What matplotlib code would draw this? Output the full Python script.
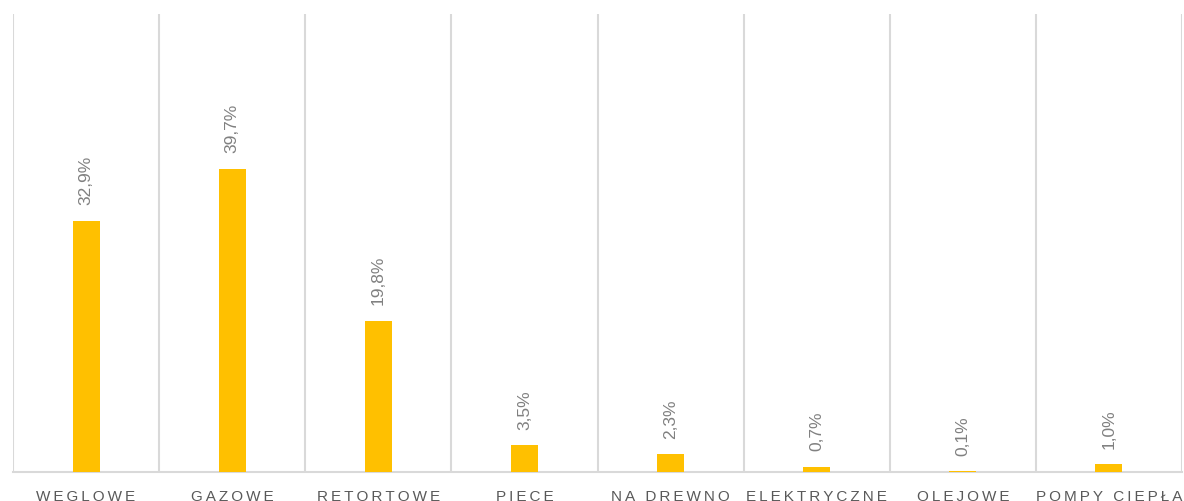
import matplotlib
matplotlib.use("Agg")
import matplotlib.pyplot as plt
import numpy as np

categories = ["WEGLOWE", "GAZOWE", "RETORTOWE", "PIECE", "NA DREWNO",
              "ELEKTRYCZNE", "OLEJOWE", "POMPY CIEPŁA"]
shares = [0.329, 0.397, 0.198, 0.035, 0.023, 0.007, 0.001, 0.010]

fam = ["Liberation Sans Narrow", "Liberation Sans", "DejaVu Sans"]
plt.rcParams["font.family"] = fam

fig = plt.figure(figsize=(11.84, 5.02), dpi=100)
ax = fig.add_axes([13 / 1184, 29 / 502, 1169 / 1184, 458 / 502])

x = np.arange(len(categories))
bars = ax.bar(x, shares, width=0.185, color="#FFC000", zorder=3)

for rect, v in zip(bars, shares):
    ax.annotate(f"{v * 100:.1f}%".replace(".", ","),
                (rect.get_x() + rect.get_width() / 2, rect.get_height()),
                xytext=(0, 12), textcoords="offset points",
                rotation=90, ha="center", va="bottom",
                fontsize=12.5, color="#808080")

ax.set_xlim(-0.5, len(categories) - 0.5)
ax.set_ylim(0, 0.6)
for b in np.arange(-0.5, len(categories), 1.0):
    ax.axvline(b, color="#d9d9d9", lw=1.5, zorder=1)

ax.set_xticks(x)
ax.set_xticklabels(["\u2009".join(c) for c in categories],
                   fontsize=11, color="#595959")
ax.tick_params(axis="x", length=0, pad=12)
ax.set_yticks([])
for s in ["top", "left", "right"]:
    ax.spines[s].set_visible(False)
ax.spines["bottom"].set_color("#d9d9d9")
ax.spines["bottom"].set_linewidth(1.5)

fig.savefig("out.png", dpi=100)
